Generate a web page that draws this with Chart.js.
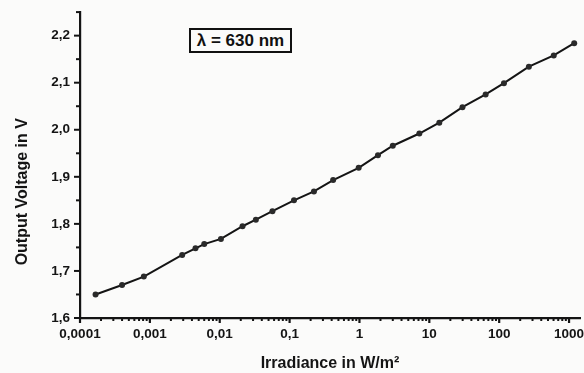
<!DOCTYPE html>
<html>
<head>
<meta charset="utf-8">
<script src="https://cdn.jsdelivr.net/npm/chart.js@4/dist/chart.umd.min.js"></script>
<style>
  html, body { margin: 0; padding: 0; background: #fbfbfa; }
  #wrap { position: relative; width: 584px; height: 373px; }
  #note { position: absolute; left: 189px; top: 28px; width: 99px; height: 21px;
          border: 2px solid #111; font: bold 17px "Liberation Sans", Arial, sans-serif;
          color: #111; text-align: center; line-height: 21px; background: #fbfbfa; }
</style>
</head>
<body>
<div id="wrap">
  <canvas id="c" width="584" height="373"></canvas>
  <div id="note">λ = 630 nm</div>
</div>
<script>
// Irradiance (W/m²) and output voltage (V)
const irradiance = [1.67e-4, 4.0e-4, 8.2e-4, 2.9e-3, 4.5e-3, 6.0e-3, 0.0104, 0.0212, 0.0329, 0.0568,
                    0.1156, 0.223, 0.42, 0.975, 1.84, 3.0, 7.2, 13.9, 29.8, 64, 117, 266, 604, 1186];
const voltage = [1.650, 1.670, 1.688, 1.734, 1.748, 1.757, 1.768, 1.795, 1.809, 1.827,
                 1.850, 1.869, 1.893, 1.919, 1.946, 1.966, 1.992, 2.015, 2.048, 2.075, 2.099, 2.134, 2.158, 2.184];
const xDecades = [0.0001, 0.001, 0.01, 0.1, 1, 10, 100, 1000];
const xTickLabels = ['0,0001', '0,001', '0,01', '0,1', '1', '10', '100', '1000'];
const yMajor = [1.6, 1.7, 1.8, 1.9, 2.0, 2.1, 2.2];
const yTickLabels = ['1,6', '1,7', '1,8', '1,9', '2,0', '2,1', '2,2'];
const xMin = 0.0001, xMax = 1435, yMin = 1.6, yMax = 2.25;

const INK = '#141414';
const FONT = '"Liberation Sans", Arial, sans-serif';

function isDecade(v) {
  return xDecades.some(d => Math.abs(v - d) / d < 1e-6);
}
function isYMajor(v) {
  return yMajor.some(d => Math.abs(v - d) < 1e-6);
}

const tickMarks = {
  id: 'tickMarks',
  afterDraw(chart) {
    const ctx = chart.ctx;
    const xs = chart.scales.x, ys = chart.scales.y;
    ctx.save();
    ctx.strokeStyle = INK;
    ctx.lineCap = 'butt';
    xs.ticks.forEach(t => {
      if (t.value > 1000 * 1.01) return;
      const px = xs.getPixelForValue(t.value);
      const major = isDecade(t.value);
      ctx.lineWidth = major ? 2.2 : 2;
      ctx.beginPath();
      ctx.moveTo(px, xs.top - (major ? 1 : 0));
      ctx.lineTo(px, xs.top + (major ? 5 : 3));
      ctx.stroke();
    });
    ys.ticks.forEach(t => {
      const py = ys.getPixelForValue(t.value);
      const major = isYMajor(t.value);
      ctx.lineWidth = 2;
      ctx.beginPath();
      ctx.moveTo(ys.right, py);
      ctx.lineTo(ys.right - (major ? 6 : 4), py);
      ctx.stroke();
    });
    ctx.restore();
  }
};

new Chart(document.getElementById('c'), {
  type: 'line',
  data: {
    datasets: [{
      data: irradiance.map((x, i) => ({ x: x, y: voltage[i] })),
      borderColor: INK,
      backgroundColor: '#2a2a2a',
      borderWidth: 2,
      pointRadius: 3,
      pointBorderWidth: 0,
      tension: 0
    }]
  },
  options: {
    responsive: false,
    animation: false,
    layout: { padding: { top: 11, right: 2, left: 0, bottom: 0 } },
    plugins: { legend: { display: false }, tooltip: { enabled: false } },
    scales: {
      x: {
        type: 'logarithmic',
        min: xMin, max: xMax,
        afterBuildTicks(scale) {
          const vals = [];
          for (let e = -4; e <= 3; e++) {
            for (let m = 1; m <= 9; m++) {
              const v = m * Math.pow(10, e);
              if (v >= xMin * 0.999 && v <= 1000 * 1.001) vals.push(Number(v.toPrecision(6)));
            }
          }
          vals.push(xMax);
          scale.ticks = vals.map(v => ({ value: v }));
        },
        afterFit(scale) { scale.height = 55; },
        border: { display: true, color: INK, width: 2.2 },
        grid: { drawOnChartArea: false, drawTicks: true, tickLength: 6, color: 'rgba(0,0,0,0)' },
        ticks: {
          autoSkip: false, maxRotation: 0, padding: 2,
          color: INK, font: { family: FONT, size: 13.5, weight: 'bold' },
          callback(value) {
            const i = xDecades.findIndex(d => Math.abs(value - d) / d < 1e-6);
            return i >= 0 ? xTickLabels[i] : '';
          }
        },
        title: {
          display: true, text: 'Irradiance in W/m²', color: INK,
          font: { family: FONT, size: 16, weight: 'bold' },
          padding: { top: 5, bottom: 0 }
        }
      },
      y: {
        type: 'linear',
        min: yMin, max: yMax,
        afterBuildTicks(scale) {
          const vals = [];
          for (let k = 0; k <= 13; k++) vals.push(Number((yMin + k * 0.05).toFixed(2)));
          scale.ticks = vals.map(v => ({ value: v }));
        },
        afterFit(scale) { scale.width = 80; },
        border: { display: true, color: INK, width: 2.2 },
        grid: { drawOnChartArea: false, drawTicks: true, tickLength: 6, color: 'rgba(0,0,0,0)' },
        ticks: {
          autoSkip: false, padding: 4,
          color: INK, font: { family: FONT, size: 13.5, weight: 'bold' },
          callback(value) {
            const i = yMajor.findIndex(d => Math.abs(value - d) < 1e-6);
            return i >= 0 ? yTickLabels[i] : '';
          }
        },
        title: {
          display: true, text: 'Output Voltage in V            ', color: INK,
          font: { family: FONT, size: 16, weight: 'bold' },
          padding: { top: 13, bottom: 0 }
        }
      }
    }
  },
  plugins: [tickMarks]
});
</script>
</body>
</html>
